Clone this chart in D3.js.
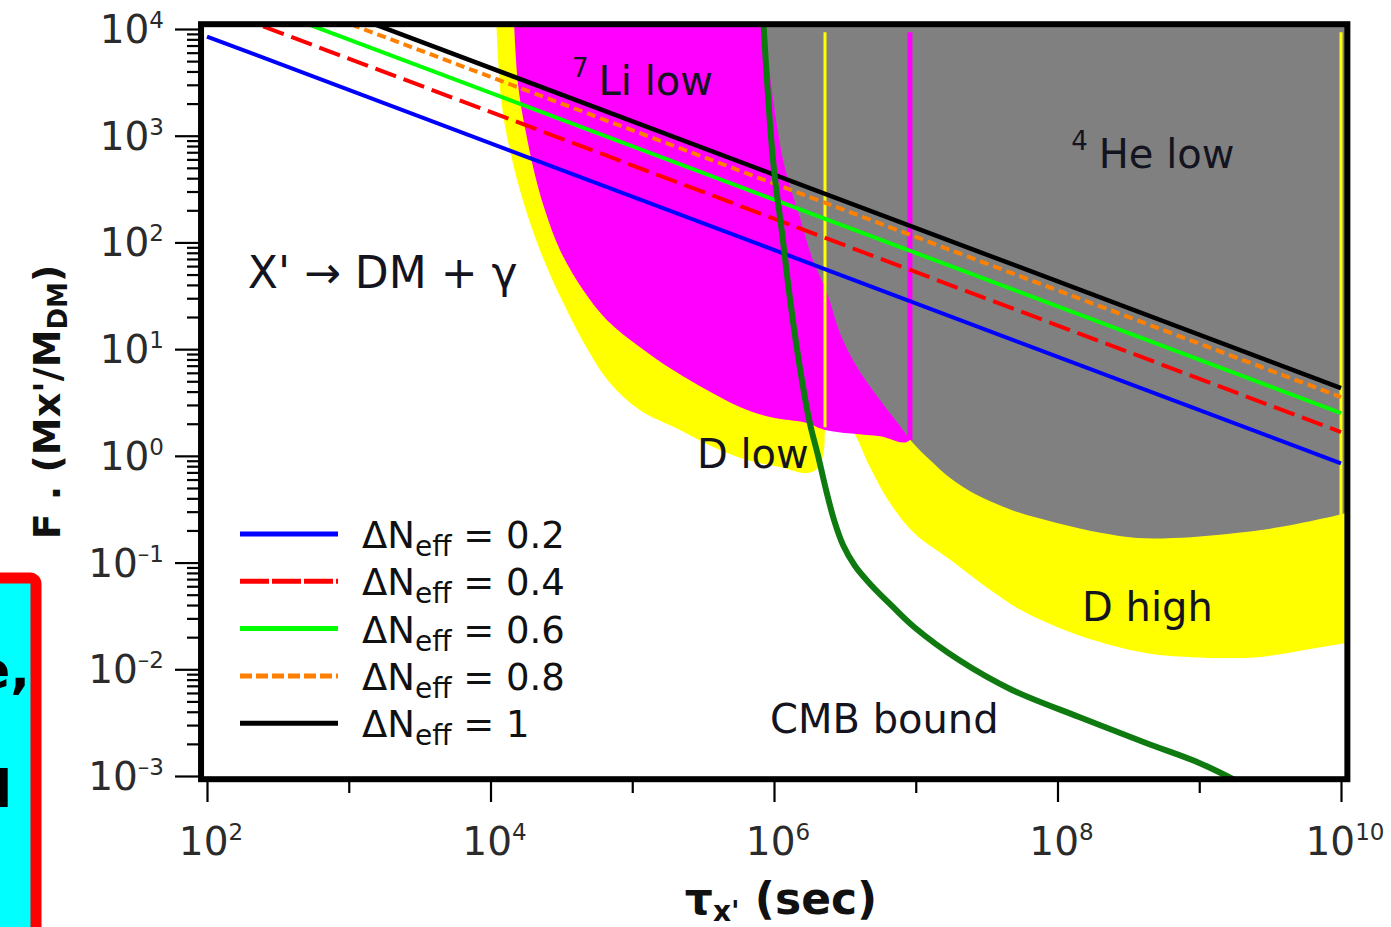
<!DOCTYPE html>
<html><head><meta charset="utf-8">
<script src="https://cdn.jsdelivr.net/npm/d3@7"></script>
<style>
html,body{margin:0;padding:0;background:#fff;}
svg{display:block;}
text{font-family:"DejaVu Sans",sans-serif;}
</style></head><body>
<svg id="chart" width="1391" height="927"></svg>
<script>
// ---------------- data ----------------
const xMajorTicks = [1e2, 1e4, 1e6, 1e8, 1e10];
const xMinorTicks = [1e3, 1e5, 1e7, 1e9];
const xTickExp = ["2", "4", "6", "8", "10"];
const yMajorTicks = [1e-3, 1e-2, 1e-1, 1e0, 1e1, 1e2, 1e3, 1e4];
const yTickExp = ["\u20133", "\u20132", "\u20131", "0", "1", "2", "3", "4"];

// Delta N_eff lines (straight in log-log), values read at tau = 1e2 and 1e10
const neffLabels = ["0.2", "0.4", "0.6", "0.8", "1"];
const lineTau = [1e2, 1e10];
const fAtTauLow = [8.5e3, 1.67e4, 2.52e4, 3.56e4, 4.32e4];
const fAtTauHigh = [0.85, 1.67, 2.52, 3.56, 4.32];

// BBN excluded regions [tau (s), F]
const yellowDHigh = [
  [3.44e6, 2e4], [3.44e6, 1.75], [3.66e6, 1.64], [4.75e6, 0.785], [6.37e6, 0.386],
  [9.73e6, 0.189], [1.75e7, 0.106], [3.13e7, 0.059], [5.52e7, 0.0359], [9.91e7, 0.0249],
  [1.78e8, 0.0188], [4.21e8, 0.0142], [8.75e8, 0.0130], [2.59e9, 0.0130], [5.40e9, 0.0151],
  [1.16e10, 0.0180], [1.5e10, 0.0195], [1.5e10, 2e4]
];
const yellowDLow = [
  [1.08e4, 2e4], [1.19e4, 2.16e3], [1.37e4, 735], [1.69e4, 250], [2.23e4, 84.9],
  [3.19e4, 28.8], [4.87e4, 9.82], [6.97e4, 4.82], [1.13e5, 2.69], [2.17e5, 1.75],
  [3.72e5, 1.21], [6.46e5, 0.914], [1.10e6, 0.785], [1.71e6, 0.690], [2.04e6, 0.769],
  [2.22e6, 1.02], [2.29e6, 1.95], [2.29e6, 2e4]
];
const magentaLi7 = [
  [1.44e4, 2e4], [1.56e4, 3.12e3], [1.78e4, 1.06e3], [2.06e4, 429], [2.42e4, 201],
  [3.09e4, 84.9], [4.50e4, 35.8], [6.64e4, 18.7], [1.13e5, 10.5], [1.94e5, 6.37],
  [3.36e5, 4.14], [5.75e5, 2.87], [9.38e5, 2.31], [1.71e6, 2.03], [2.29e6, 1.75],
  [5.60e6, 1.53], [9.10e6, 1.41], [9.10e6, 2e4]
];
const grayHe4 = [
  [7.96e5, 2e4], [1.16e6, 592], [1.52e6, 173], [1.88e6, 68.4], [2.37e6, 33.6],
  [2.92e6, 14.2], [3.85e6, 6.81], [5.60e6, 3.33], [8.13e6, 1.75], [9.42e6, 1.35],
  [1.26e7, 0.914], [1.75e7, 0.619], [2.62e7, 0.438], [4.78e7, 0.310], [9.91e7, 0.235],
  [2.06e8, 0.189], [3.64e8, 0.170], [8.75e8, 0.173], [1.82e9, 0.189], [3.72e9, 0.215],
  [7.71e9, 0.261], [1.16e10, 0.298], [1.5e10, 0.325], [1.5e10, 2e4]
];
// vertical boundary lines: [tau, F bottom, F top]
const yellowVLines = [[2.29e6, 1.85, 9.3e3], [1e10, 0.28, 9.3e3]];
const magentaVLines = [[9.1e6, 1.41, 9.3e3]];

// CMB bound
const cmbBound = [
  [8.22e5, 2e4], [9.84e5, 592], [1.14e6, 122], [1.30e6, 28.8], [1.52e6, 6.81],
  [1.79e6, 2.03], [2.04e6, 1.02], [2.33e6, 0.479], [2.65e6, 0.251], [3.07e6, 0.146],
  [3.73e6, 0.0928], [4.91e6, 0.0603], [6.79e6, 0.0392], [9.73e6, 0.0249],
  [2.02e7, 0.0122], [4.78e7, 0.0064], [1.42e8, 0.00357], [4.21e8, 0.00204],
  [1.01e9, 0.00132], [2.10e9, 8.2e-4]
];

// ---------------- styles ----------------
const neffColors = ["#0000ff", "#ff0000", "#00ff00", "#ff8000", "#000000"];
const neffDash = [null, "22,8", null, "9,5", null];
const neffWidth = [4, 4, 4, 4, 4.5];

// ---------------- scales ----------------
const svg = d3.select("#chart");
const x = d3.scaleLog().domain([1e2, 1e10]).range([207, 1341]);
const y = d3.scaleLog().domain([1e-3, 1e4]).range([776, 29]);
const xF0 = x(Math.pow(10, 1.958)), xF1 = x(Math.pow(10, 10.045));
const yF0 = y(Math.pow(10, 4.045)), yF1 = y(Math.pow(10, -3.03));

svg.append("defs").append("clipPath").attr("id", "clip").append("rect")
  .attr("x", xF0).attr("y", yF0).attr("width", xF1 - xF0).attr("height", yF1 - yF0);

const plot = svg.append("g").attr("clip-path", "url(#clip)");
const smooth = d3.line().x(d => x(d[0])).y(d => y(d[1])).curve(d3.curveCatmullRom.alpha(0.5));
const poly = d => smooth(d) + "Z";

plot.append("path").datum(yellowDHigh).attr("d", poly).attr("fill", "#ffff00");
plot.append("path").datum(yellowDLow).attr("d", poly).attr("fill", "#ffff00");
plot.append("path").datum(magentaLi7).attr("d", poly).attr("fill", "#ff00ff");
plot.append("path").datum(grayHe4).attr("d", poly).attr("fill", "#808080");

plot.selectAll("line.vy").data(yellowVLines).join("line")
  .attr("x1", d => x(d[0])).attr("x2", d => x(d[0]))
  .attr("y1", d => y(d[2])).attr("y2", d => y(d[1]))
  .attr("stroke", "#ffff00").attr("stroke-width", 3);
plot.selectAll("line.vm").data(magentaVLines).join("line")
  .attr("x1", d => x(d[0])).attr("x2", d => x(d[0]))
  .attr("y1", d => y(d[2])).attr("y2", d => y(d[1]))
  .attr("stroke", "#ff00ff").attr("stroke-width", 5);

const lin = d3.line().x(d => x(d[0])).y(d => y(d[1]));
neffLabels.forEach((lab, i) => {
  const pts = [[lineTau[0], fAtTauLow[i]], [lineTau[1], fAtTauHigh[i]]];
  plot.append("path").datum(pts).attr("d", lin)
    .attr("fill", "none").attr("stroke", neffColors[i]).attr("stroke-width", neffWidth[i])
    .attr("stroke-dasharray", neffDash[i]);
});

plot.append("path").datum(cmbBound).attr("d", smooth)
  .attr("fill", "none").attr("stroke", "#0f7a0f").attr("stroke-width", 6);

// ---------------- annotations ----------------
const annColor = "#141420";
function ann(tau, f, parts) {
  const t = svg.append("text").attr("x", x(tau)).attr("y", y(f)).attr("fill", annColor);
  parts.forEach(p => {
    const s = t.append("tspan").text(p.t).attr("font-size", p.s);
    if (p.dy) s.attr("dy", p.dy);
    if (p.dx) s.attr("dx", p.dx);
  });
}
ann(3.76e4, 2.40e3, [{t: "7", s: 26, dy: -18}, {t: "Li low", s: 40, dx: 10, dy: 18}]);
ann(1.25e8, 498, [{t: "4", s: 26, dy: -18}, {t: "He low", s: 40, dx: 11, dy: 18}]);
ann(194, 37.4, [{t: "X' \u2192 DM + \u03b3", s: 44}]);
ann(2.86e5, 0.769, [{t: "D low", s: 40}]);
ann(1.49e8, 0.0283, [{t: "D high", s: 40}]);
ann(9.38e5, 2.53e-3, [{t: "CMB bound", s: 40}]);

// ---------------- axes ----------------
const yMinor = [];
for (let k = -3; k < 4; k++) for (let m = 2; m <= 9; m++) yMinor.push(m * Math.pow(10, k));

const gyMin = svg.append("g").attr("transform", "translate(199,0)")
  .call(d3.axisLeft(y).tickValues(yMinor).tickSize(12).tickFormat(""));
const gyMaj = svg.append("g").attr("transform", "translate(199,0)")
  .call(d3.axisLeft(y).tickValues(yMajorTicks).tickSize(24).tickFormat(""));
const gxMin = svg.append("g").attr("transform", "translate(0,782)")
  .call(d3.axisBottom(x).tickValues(xMinorTicks).tickSize(11).tickFormat(""));
const gxMaj = svg.append("g").attr("transform", "translate(0,782)")
  .call(d3.axisBottom(x).tickValues(xMajorTicks).tickSize(20).tickFormat(""));
[gyMin, gyMaj, gxMin, gxMaj].forEach(g => {
  g.select(".domain").remove();
  g.selectAll(".tick line").attr("stroke", "#000").attr("stroke-width", 2.2);
});

// frame
svg.append("rect").attr("x", xF0).attr("y", yF0).attr("width", xF1 - xF0).attr("height", yF1 - yF0)
  .attr("fill", "none").attr("stroke", "#000").attr("stroke-width", 6);

const tickColor = "#2b2b2b";
yMajorTicks.forEach((v, i) => {
  const t = svg.append("text").attr("x", 164).attr("y", y(v) + 14)
    .attr("text-anchor", "end").attr("fill", tickColor);
  t.append("tspan").text("10").attr("font-size", 39);
  t.append("tspan").text(yTickExp[i]).attr("font-size", 23).attr("dy", -15);
});
xMajorTicks.forEach((v, i) => {
  const t = svg.append("text").attr("x", x(v) + 4).attr("y", 855)
    .attr("text-anchor", "middle").attr("fill", tickColor);
  t.append("tspan").text("10").attr("font-size", 39);
  t.append("tspan").text(xTickExp[i]).attr("font-size", 23).attr("dy", -15);
});

// axis titles
const xt = svg.append("text").attr("x", 781).attr("y", 914).attr("text-anchor", "middle")
  .attr("font-weight", "bold").attr("fill", "#111");
xt.append("tspan").text("\u03c4").attr("font-size", 44);
xt.append("tspan").text("x'").attr("font-size", 28).attr("dy", 7);
xt.append("tspan").text(" (sec)").attr("font-size", 44).attr("dy", -7);

const yt = svg.append("text").attr("transform", "translate(60,402) rotate(-90)")
  .attr("text-anchor", "middle").attr("font-weight", "bold").attr("fill", "#111");
yt.append("tspan").text("F . (Mx'/M").attr("font-size", 38);
yt.append("tspan").text("DM").attr("font-size", 26).attr("dy", 7);
yt.append("tspan").text(")").attr("font-size", 38).attr("dy", -7);

// ---------------- legend ----------------
const legY0 = 534, legDy = 47.3;
neffLabels.forEach((lab, i) => {
  const yy = legY0 + i * legDy;
  svg.append("line").attr("x1", 240).attr("x2", 338).attr("y1", yy).attr("y2", yy)
    .attr("stroke", neffColors[i]).attr("stroke-width", 5)
    .attr("stroke-dasharray", i === 1 ? "29,3" : (i === 3 ? "12,4" : null));
  const t = svg.append("text").attr("x", 362).attr("y", yy + 14).attr("fill", "#111");
  t.append("tspan").text("\u0394N").attr("font-size", 37);
  t.append("tspan").text("eff").attr("font-size", 28).attr("dy", 8);
  t.append("tspan").text(" = " + lab).attr("font-size", 37).attr("dy", -8);
});

// ---------------- cropped overlay box at bottom-left ----------------
svg.append("rect").attr("x", -30).attr("y", 578).attr("width", 66).attr("height", 420)
  .attr("rx", 6).attr("fill", "#00ffff").attr("stroke", "#ff0000").attr("stroke-width", 11);
svg.append("text").attr("x", 30).attr("y", 688).attr("text-anchor", "end")
  .attr("font-family", "Liberation Sans, Arial, sans-serif").attr("font-weight", "bold")
  .attr("font-size", 52).attr("fill", "#000").text("e,");
svg.append("text").attr("x", 12).attr("y", 807).attr("text-anchor", "end")
  .attr("font-family", "Liberation Sans, Arial, sans-serif").attr("font-weight", "bold")
  .attr("font-size", 52).attr("fill", "#000").text("l");
</script>
</body></html>
